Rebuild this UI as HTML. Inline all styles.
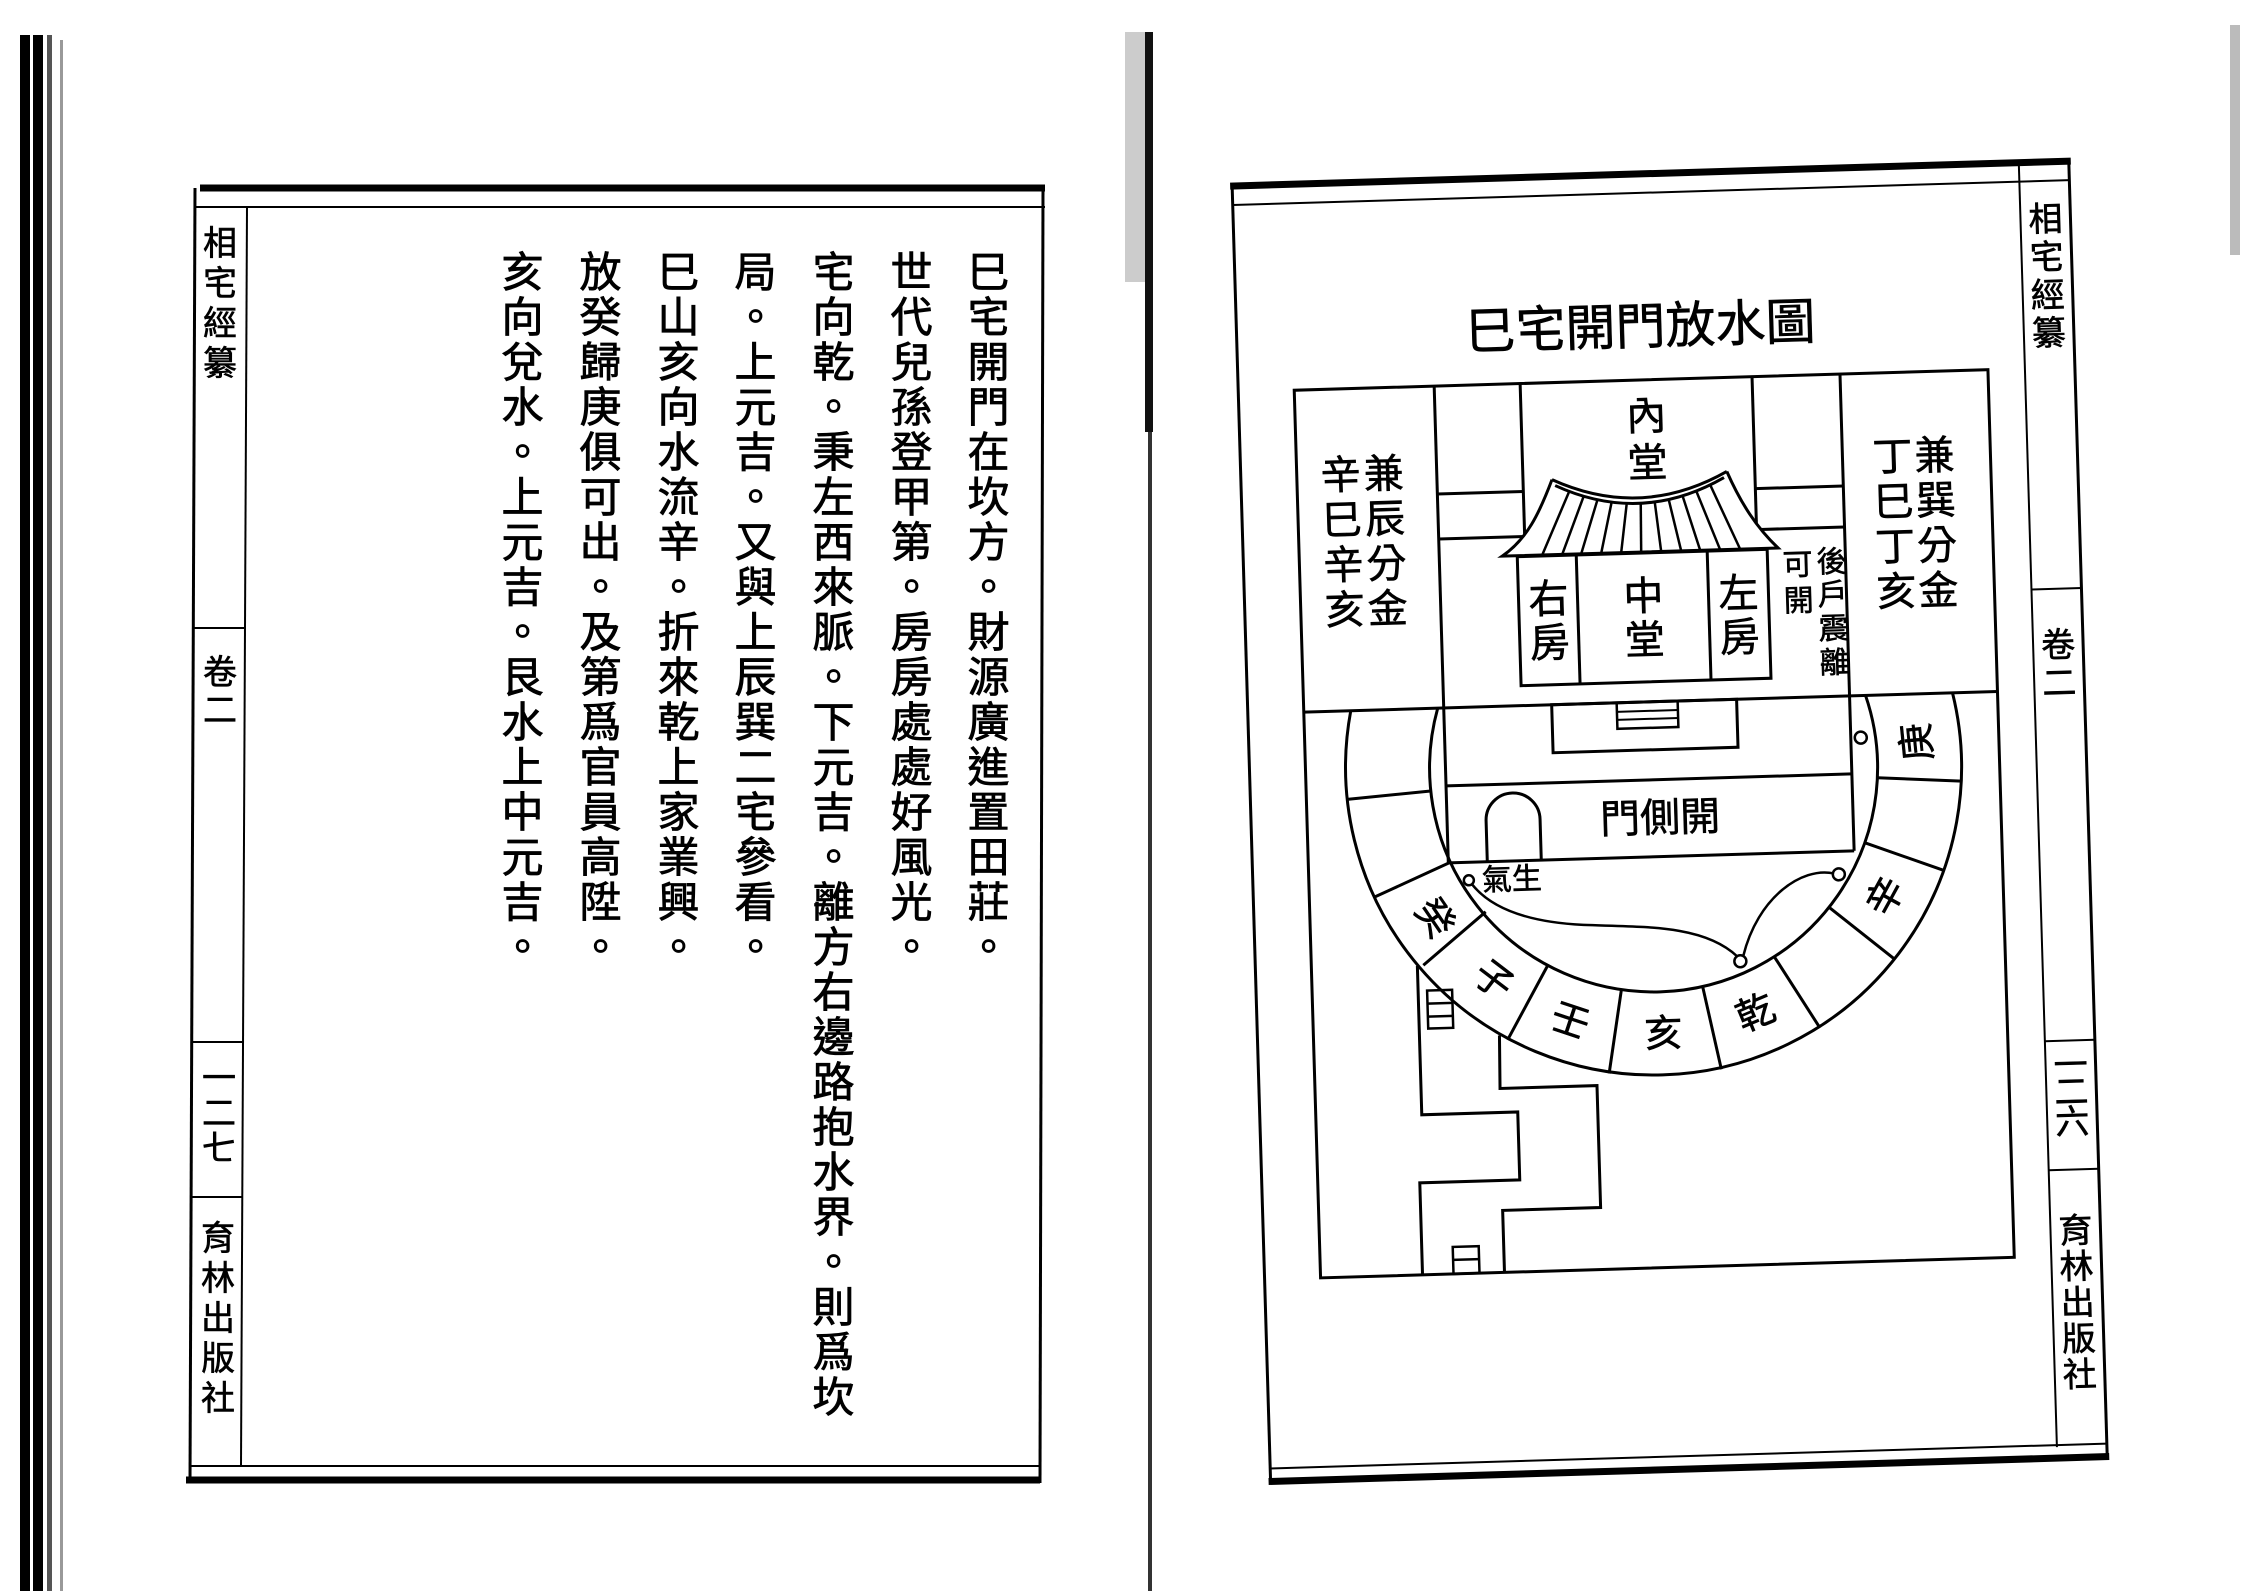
<!DOCTYPE html>
<html><head><meta charset="utf-8">
<style>
html,body{margin:0;padding:0;background:#fff;}
#wrap{position:relative;width:2248px;height:1591px;overflow:hidden;background:#fff;}
svg{position:absolute;left:0;top:0;}
.col{position:absolute;top:250px;writing-mode:vertical-rl;font-family:"Liberation Sans","Noto Sans CJK TC","Noto Sans CJK SC",sans-serif;font-size:42px;letter-spacing:3px;line-height:42px;color:#000;white-space:nowrap;-webkit-text-stroke:0.8px #000;}
svg text{stroke:#000;stroke-width:0.6px;}
</style></head><body>
<div id="wrap">
<svg width="2248" height="1591" viewBox="0 0 2248 1591" xmlns="http://www.w3.org/2000/svg" font-family="'Liberation Sans','Noto Sans CJK TC','Noto Sans CJK SC',sans-serif">
<!-- scan edges -->
<rect x="20" y="35" width="10" height="1556" fill="#000"/>
<rect x="33" y="35" width="10" height="1556" fill="#000"/>
<rect x="47" y="35" width="5" height="1556" fill="#555"/>
<rect x="60" y="40" width="3" height="1551" fill="#999"/>
<rect x="1125" y="32" width="20" height="250" fill="#ccc"/>
<rect x="1145" y="32" width="8" height="400" fill="#111"/>
<rect x="1148" y="432" width="4" height="1159" fill="#333"/>
<rect x="2230" y="25" width="10" height="230" fill="#bbb"/>

<!-- LEFT PAGE -->
<g stroke="#000" fill="none">
<line x1="200" y1="188" x2="1045" y2="188" stroke-width="7"/>
<line x1="196" y1="207" x2="1045" y2="207" stroke-width="2"/>
<line x1="195" y1="188" x2="190" y2="1483" stroke-width="3"/>
<line x1="247" y1="207" x2="241" y2="1466" stroke-width="2"/>
<line x1="1043" y1="188" x2="1040" y2="1483" stroke-width="3"/>
<line x1="190" y1="1466" x2="1040" y2="1466" stroke-width="2"/>
<line x1="186" y1="1480" x2="1040" y2="1480" stroke-width="7"/>
<line x1="192" y1="628" x2="245" y2="628" stroke-width="2"/>
<line x1="192" y1="1042" x2="243" y2="1042" stroke-width="2"/>
<line x1="190" y1="1197" x2="243" y2="1197" stroke-width="2"/>
</g>
<g font-size="34" text-anchor="middle" fill="#000">
<text x="220" y="255">相</text><text x="220" y="295">宅</text><text x="220" y="335">經</text><text x="220" y="375">纂</text>
<text x="220" y="684">卷</text><text x="220" y="722">二</text>
<text x="219" y="1090">一</text><text x="219" y="1125">二</text><text x="219" y="1160">七</text>
<text x="218" y="1250">育</text><text x="218" y="1290">林</text><text x="218" y="1330">出</text><text x="218" y="1370">版</text><text x="218" y="1410">社</text>
</g>

<!-- RIGHT PAGE -->
<g transform="rotate(-1.7 1680 815)">
<g stroke="#000" fill="none">
<line x1="1249" y1="173" x2="2090" y2="173" stroke-width="7"/>
<line x1="1251" y1="192" x2="2088" y2="192" stroke-width="2"/>
<line x1="1251" y1="173" x2="1251" y2="1472" stroke-width="3"/>
<line x1="2038" y1="173" x2="2038" y2="1458" stroke-width="2"/>
<line x1="2088" y1="173" x2="2088" y2="1472" stroke-width="3"/>
<line x1="1251" y1="1456" x2="2088" y2="1456" stroke-width="2"/>
<line x1="1249" y1="1469" x2="2090" y2="1469" stroke-width="7"/>
<line x1="2038" y1="600" x2="2088" y2="600" stroke-width="2"/>
<line x1="2038" y1="1052" x2="2088" y2="1052" stroke-width="2"/>
<line x1="2038" y1="1181" x2="2088" y2="1181" stroke-width="2"/>
</g>
<g font-size="34" text-anchor="middle" fill="#000">
<text x="2063" y="242">相</text><text x="2063" y="280">宅</text><text x="2063" y="318">經</text><text x="2063" y="356">纂</text>
<text x="2063" y="668">卷</text><text x="2063" y="706">二</text>
<text x="2063" y="1088">一</text><text x="2063" y="1115">二</text><text x="2063" y="1145">六</text>
<text x="2063" y="1254">育</text><text x="2063" y="1290">林</text><text x="2063" y="1326">出</text><text x="2063" y="1362">版</text><text x="2063" y="1398">社</text>
</g>
<text x="1655" y="343" font-size="50" text-anchor="middle">巳宅開門放水圖</text>

<g stroke="#000" stroke-width="3" fill="none" stroke-linejoin="miter">
<rect x="1307" y="379" width="694" height="888"/>
<line x1="1447" y1="379" x2="1447" y2="856"/>
<line x1="1853" y1="379" x2="1853" y2="856"/>
<line x1="1533" y1="379" x2="1533" y2="540"/>
<line x1="1765" y1="379" x2="1765" y2="532"/>
<line x1="1447" y1="487" x2="1533" y2="487"/>
<line x1="1447" y1="532" x2="1533" y2="532"/>
<line x1="1765" y1="491" x2="1853" y2="491"/>
<line x1="1765" y1="532" x2="1853" y2="532"/>
<line x1="1307" y1="701" x2="2001" y2="701"/>
<line x1="1447" y1="779" x2="1853" y2="779"/>
<line x1="1447" y1="856" x2="1853" y2="856"/>
<rect x="1525" y="552" width="250" height="129" fill="#fff"/>
<line x1="1584" y1="552" x2="1584" y2="681"/>
<line x1="1715" y1="552" x2="1715" y2="681"/>
<path d="M1562,476 C1548,510 1535,535 1510,551 L1786,551 C1765,530 1750,505 1737,473" fill="#fff"/>
<path d="M1562,476 Q1650,519 1737,473"/>
<path d="M1565,482 Q1650,524 1734,479"/>
<g stroke-width="2.5">
<line x1="1579" y1="488" x2="1550" y2="551"/>
<line x1="1593" y1="494" x2="1570" y2="551"/>
<line x1="1607" y1="497" x2="1589" y2="551"/>
<line x1="1621" y1="500" x2="1609" y2="551"/>
<line x1="1636" y1="502" x2="1629" y2="551"/>
<line x1="1650" y1="502" x2="1649" y2="551"/>
<line x1="1664" y1="501" x2="1669" y2="551"/>
<line x1="1678" y1="499" x2="1689" y2="551"/>
<line x1="1692" y1="496" x2="1708" y2="551"/>
<line x1="1706" y1="492" x2="1728" y2="551"/>
<line x1="1720" y1="486" x2="1748" y2="551"/>
</g>
<rect x="1555" y="701" width="185" height="48"/>
<rect x="1620" y="701" width="61" height="26" stroke-width="2.5"/>
<line x1="1620" y1="710" x2="1681" y2="710" stroke-width="2"/>
<line x1="1620" y1="718" x2="1681" y2="718" stroke-width="2"/>
<path d="M1486,856 V815 A27,27 0 0 1 1540,815 V856"/>
<path d="M1354,701 A308,308 0 1 0 1956,701"/>
<path d="M1441,701 A224,224 0 1 0 1869,701"/>
<line x1="1878.5" y1="783.6" x2="1962.3" y2="789.5"/>
<line x1="1864.1" y1="848.3" x2="1942.5" y2="878.4"/>
<line x1="1826.6" y1="912.0" x2="1890.9" y2="966.0"/>
<line x1="1770.4" y1="960.0" x2="1813.6" y2="1032.0"/>
<line x1="1697.7" y1="987.9" x2="1713.8" y2="1070.4"/>
<line x1="1616.1" y1="988.6" x2="1601.5" y2="1071.3"/>
<line x1="1543.0" y1="962.0" x2="1501.0" y2="1034.7"/>
<line x1="1482.9" y1="906.0" x2="1419.0" y2="957.6"/>
<line x1="1448.8" y1="855.5" x2="1371.5" y2="888.3"/>
<line x1="1431.5" y1="783.6" x2="1347.8" y2="789.5"/>
<polyline points="1413,958 1413,1107 1509,1107 1509,1175 1409,1175 1409,1267"/>
<polyline points="1493,1030 1492,1083 1589,1083 1589,1205 1491,1205 1491,1267"/>
<rect x="1422" y="983" width="25" height="38" stroke-width="2.5"/>
<line x1="1422" y1="996" x2="1447" y2="996" stroke-width="2.5"/>
<line x1="1422" y1="1009" x2="1447" y2="1009" stroke-width="2.5"/>
<rect x="1440" y="1240" width="26" height="27" stroke-width="2.5"/>
<line x1="1440" y1="1253" x2="1466" y2="1253" stroke-width="2.5"/>
<path d="M1470,878 C1490,905 1530,918 1580,922 C1640,926 1700,925 1733,958" stroke-width="2.5"/>
<path d="M1739,958 C1755,900 1800,870 1832,878" stroke-width="2.5"/>
<circle cx="1467" cy="874" r="5" fill="#fff" stroke-width="2.5"/>
<circle cx="1736" cy="963" r="6" fill="#fff" stroke-width="2.5"/>
<circle cx="1837" cy="879" r="6" fill="#fff" stroke-width="2.5"/>
<circle cx="1863" cy="743" r="6" fill="#fff" stroke-width="2.5"/>
</g>
<g fill="#000" text-anchor="middle" font-size="40" dominant-baseline="central">
<text x="1658" y="416">內</text><text x="1658" y="463">堂</text>
<text x="1555" y="596">右</text><text x="1555" y="640">房</text>
<text x="1650" y="596">中</text><text x="1650" y="640">堂</text>
<text x="1745" y="596">左</text><text x="1745" y="640">房</text>
<text x="1394" y="466">兼</text><text x="1394" y="511">辰</text><text x="1394" y="556">分</text><text x="1394" y="601">金</text>
<text x="1351" y="466">辛</text><text x="1351" y="511">巳</text><text x="1351" y="556">辛</text><text x="1351" y="601">亥</text>
<text x="1945" y="464">兼</text><text x="1945" y="509">巽</text><text x="1945" y="554">分</text><text x="1945" y="599">金</text>
<text x="1903" y="464">丁</text><text x="1903" y="509">巳</text><text x="1903" y="554">丁</text><text x="1903" y="599">亥</text>
<text x="1660" y="818">門側開</text>
</g>
<g fill="#000" text-anchor="middle" font-size="30" dominant-baseline="central">
<text x="1805" y="569">可</text><text x="1805" y="605">開</text>
<text x="1839" y="567">後</text><text x="1839" y="600">戶</text><text x="1839" y="634">震</text><text x="1839" y="668">離</text>
<text x="1510" y="875">氣生</text>
</g>
<g fill="#000" text-anchor="middle" font-size="38" dominant-baseline="central">
<text transform="translate(1920,749) rotate(-94)">庚</text>
<text transform="translate(1884,903) rotate(-59.5)">辛</text>
<text transform="translate(1750,1016) rotate(-21)">乾</text>
<text transform="translate(1657,1034) rotate(-0.5)">亥</text>
<text transform="translate(1564,1018) rotate(20)">壬</text>
<text transform="translate(1488,975) rotate(39)">子</text>
<text transform="translate(1431,911) rotate(57.5)">癸</text>
</g>
</g>
</svg>

<div class="col" style="left:964px;">巳宅開門在坎方。財源廣進置田莊。</div>
<div class="col" style="left:887px;">世代兒孫登甲第。房房處處好風光。</div>
<div class="col" style="left:809px;">宅向乾。秉左西來脈。下元吉。離方右邊路抱水界。則爲坎</div>
<div class="col" style="left:731px;">局。上元吉。又與上辰巽二宅參看。</div>
<div class="col" style="left:654px;">巳山亥向水流辛。折來乾上家業興。</div>
<div class="col" style="left:576px;">放癸歸庚俱可出。及第爲官員高陞。</div>
<div class="col" style="left:498px;">亥向兌水。上元吉。艮水上中元吉。</div>
</div>
</body></html>
